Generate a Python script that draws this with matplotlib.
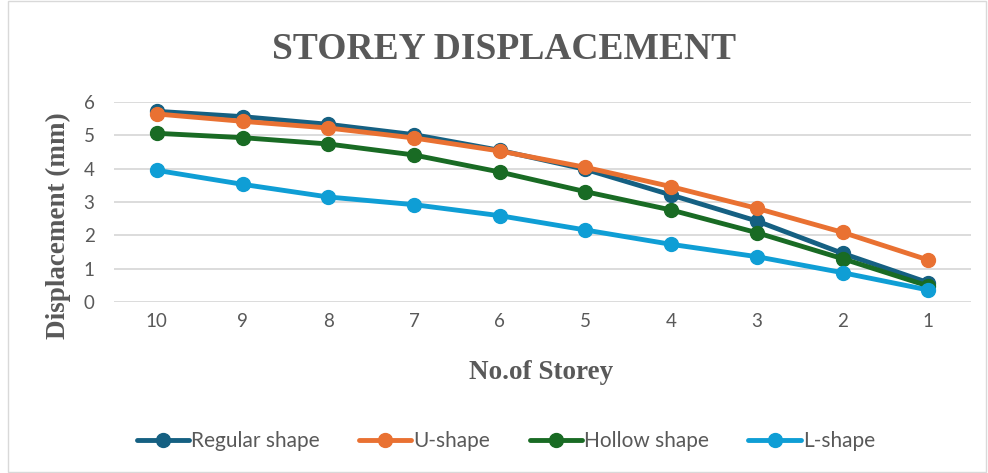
import matplotlib
matplotlib.use("Agg")
import matplotlib.pyplot as plt
from matplotlib.patches import Rectangle

storeys = ["10", "9", "8", "7", "6", "5", "4", "3", "2", "1"]
regular = [5.72, 5.56, 5.33, 5.02, 4.55, 3.98, 3.21, 2.43, 1.46, 0.58]
u_shape = [5.64, 5.42, 5.22, 4.92, 4.53, 4.04, 3.46, 2.81, 2.09, 1.26]
hollow = [5.06, 4.93, 4.74, 4.41, 3.90, 3.31, 2.76, 2.08, 1.30, 0.48]
l_shape = [3.95, 3.53, 3.15, 2.92, 2.59, 2.16, 1.73, 1.36, 0.88, 0.36]
series_names = ["Regular shape", "U-shape", "Hollow shape", "L-shape"]
colors = ["#156082", "#E97132", "#196B24", "#0F9ED5"]
yticks = [0, 1, 2, 3, 4, 5, 6]

fig = plt.figure(figsize=(9.88, 4.73), dpi=100)
ax = fig.add_axes([0.1154, 0.3615, 0.8675, 0.4229])

x = list(range(len(storeys)))
for vals, name, c in zip([regular, u_shape, hollow, l_shape], series_names, colors):
    ax.plot(x, vals, color=c, lw=3.5, marker="o", markersize=10, label=name,
            solid_capstyle="round")

ax.set_xlim(-0.5, len(storeys) - 0.5)
ax.set_ylim(0, 6)
ax.set_yticks(yticks)
ax.set_xticks(x)
ax.set_xticklabels(storeys)
ax.grid(axis="y", color="#d9d9d9", lw=1.3)
ax.set_axisbelow(True)
for s in ax.spines.values():
    s.set_visible(False)
ax.tick_params(length=0, labelsize=13.5, labelcolor="#595959", pad=8)
for lab in ax.get_xticklabels() + ax.get_yticklabels():
    lab.set_fontfamily("Lato")
ax.tick_params(axis="y", pad=14)

fig.text(0.51, 0.895, "STOREY DISPLACEMENT", ha="center", va="center",
         fontfamily="Liberation Serif", fontweight="bold", fontsize=27,
         color="#595959")
fig.text(0.059, 0.523, "Displacement (mm)", ha="center", va="center", rotation=90,
         fontfamily="Liberation Serif", fontweight="bold", fontsize=19.5,
         color="#595959")
fig.text(0.548, 0.213, "No.of Storey", ha="center", va="center",
         fontfamily="Liberation Serif", fontweight="bold", fontsize=19.5,
         color="#595959")

leg = fig.legend(loc="center", bbox_to_anchor=(0.512, 0.068), ncol=4, frameon=False,
                 prop={"family": "Lato", "size": 15}, handlelength=2.5,
                 handletextpad=0.1, columnspacing=1.9, markerscale=1.0)
for t in leg.get_texts():
    t.set_color("#595959")

fig.patches.append(Rectangle((0.008, 0.002), 0.99, 0.996, transform=fig.transFigure,
                             fill=False, edgecolor="#d9d9d9", lw=1.0))

fig.savefig("out.png", dpi=100, facecolor="white")
